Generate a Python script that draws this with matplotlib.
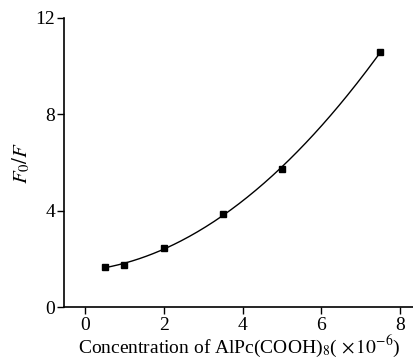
import numpy as np
import matplotlib
matplotlib.use("Agg")
import matplotlib.pyplot as plt

# measured points
conc = np.array([0.5, 1.0, 2.0, 3.5, 5.0, 7.5])
ratio = np.array([1.65, 1.75, 2.45, 3.85, 5.75, 10.6])

# quadratic fit through the measured points
coef = np.polyfit(conc, ratio, 2)
x_fit = np.linspace(conc[0], conc[-1], 200)
y_fit = np.polyval(coef, x_fit)

plt.rcParams["font.family"] = "Liberation Serif"
plt.rcParams["mathtext.fontset"] = "stix"

fig = plt.figure(figsize=(4.14, 3.59), dpi=100)
ax = fig.add_axes([0.1546, 0.1448, 0.8454, 0.8052])

ax.plot(x_fit, y_fit, color="black", linewidth=1.0)
ax.plot(conc, ratio, linestyle="none", marker="s", markersize=4.5, color="black")

ax.set_xlim(-0.53, 8.35)
ax.set_ylim(0, 12)
ax.set_xticks([0, 2, 4, 6, 8])
ax.set_yticks([0, 4, 8, 12])
ax.tick_params(direction="out", length=5, width=1, labelsize=14)
ax.tick_params(axis="y", pad=1.5)
ax.tick_params(axis="x", pad=2)

for side in ["top", "right"]:
    ax.spines[side].set_visible(False)
for side in ["left", "bottom"]:
    ax.spines[side].set_linewidth(1.2)

ax.set_xlabel(r"Concentration of AlPc(COOH)$_8$( $\times\,10^{-6}$)", fontsize=14, labelpad=-0.5)
ax.set_ylabel(r"$F_0/F$", fontsize=15, labelpad=2)

fig.savefig("out.png", dpi=100)
